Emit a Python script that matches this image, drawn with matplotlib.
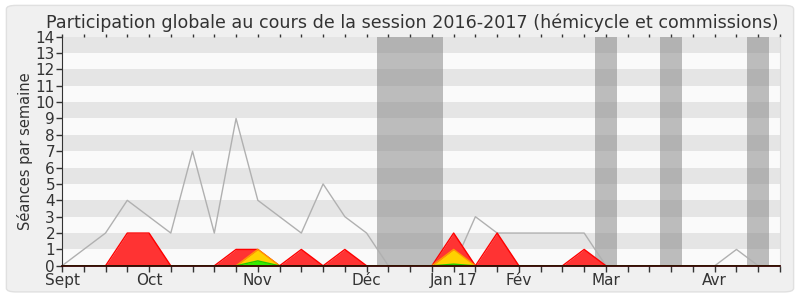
import numpy as np
import matplotlib
matplotlib.use('Agg')
import matplotlib.pyplot as plt
from matplotlib.patches import FancyBboxPatch

# weekly values, week 0 = first week of Sept 2016
total = [0, 1, 2, 4, 3, 2, 7, 2, 9, 4, 3, 2, 5, 3, 2, 0, 0, 0, 0, 3,
         2, 2, 2, 2, 2, 0, 0, 0, 0, 0, 0, 1, 0, 0]
presence = [0, 0, 0, 2, 2, 0, 0, 0, 1, 1, 0, 1, 0, 1, 0, 0, 0, 0, 2, 0,
            2, 0, 0, 0, 1, 0, 0, 0, 0, 0, 0, 0, 0, 0]
interventions = [0, 0, 0, 0, 0, 0, 0, 0, 0, 1, 0, 0, 0, 0, 0, 0, 0, 0, 1, 0,
                 0, 0, 0, 0, 0, 0, 0, 0, 0, 0, 0, 0, 0, 0]
questions = [0, 0, 0, 0, 0, 0, 0, 0, 0, 0.3, 0, 0, 0, 0, 0, 0, 0, 0, 0.1, 0,
             0, 0, 0, 0, 0, 0, 0, 0, 0, 0, 0, 0, 0, 0]
holidays = [(14.5, 17.5), (24.5, 25.5), (27.5, 28.5), (31.5, 32.5)]
month_weeks = [0, 4, 9, 14, 18, 21, 25, 30]
month_labels = ['Sept', 'Oct', 'Nov', 'Déc', 'Jan 17', 'Fév', 'Mar', 'Avr']

weeks = np.arange(len(total))

fig = plt.figure(figsize=(8, 3), dpi=100)
fig.patch.set_facecolor('white')
fig.patches.append(FancyBboxPatch((0.008, 0.027), 0.984, 0.955,
                                  boxstyle='round,pad=0,rounding_size=0.012',
                                  transform=fig.transFigure, facecolor='#f0f0f0',
                                  edgecolor='#e0e0e0', linewidth=1, zorder=-10))
ax = fig.add_axes([0.0775, 0.114, 0.8975, 0.764])
ax.set_facecolor('#fafafa')

# horizontal stripes
for y in range(1, 14, 2):
    ax.axhspan(y, y + 1, color='#e5e5e5', lw=0, zorder=0)

# vacation weeks
for a, b in holidays:
    ax.axvspan(a, b, color='#808080', alpha=0.5, lw=0, zorder=1)

ax.plot(weeks, total, color='#b0b0b0', lw=1, zorder=2)
# fills then their top edges
for vals, fc, ec, z in [(presence, '#ff3333', '#ff0000', 3),
                        (interventions, '#ffd000', '#ff9900', 4),
                        (questions, '#33ee00', '#22cc00', 5)]:
    ax.fill_between(weeks, vals, color=fc, lw=0, zorder=z)
    ax.plot(weeks, vals, color=ec, lw=1, zorder=z)

ax.set_xlim(0, 33)
ax.set_ylim(0, 14)
ax.set_yticks(range(15))
ax.set_xticks(weeks)
labels = [''] * len(weeks)
for w, l in zip(month_weeks, month_labels):
    labels[w] = l
ax.set_xticklabels(labels)
ax.tick_params(axis='both', labelsize=11, colors='#333333', length=4, width=1, pad=1)
ax.tick_params(axis='x', top=True, direction='out')
for t in ax.xaxis.get_major_ticks():
    t.tick2line.set_markersize(2)
ax.set_ylabel('Séances par semaine', fontsize=10.5, color='#333333', labelpad=2)
fig.text(0.515, 0.905,
         'Participation globale au cours de la session 2016-2017 (hémicycle et commissions)',
         fontsize=12.6, color='#333333', ha='center', va='baseline')

ax.spines['left'].set_color('#333333')
ax.spines['bottom'].set_color('#330000')
ax.spines['bottom'].set_linewidth(1.3)
ax.spines['bottom'].set_zorder(10)
ax.spines['top'].set_visible(False)
ax.spines['right'].set_color('#dddddd')

fig.savefig('out.png', dpi=100, facecolor=fig.get_facecolor())
